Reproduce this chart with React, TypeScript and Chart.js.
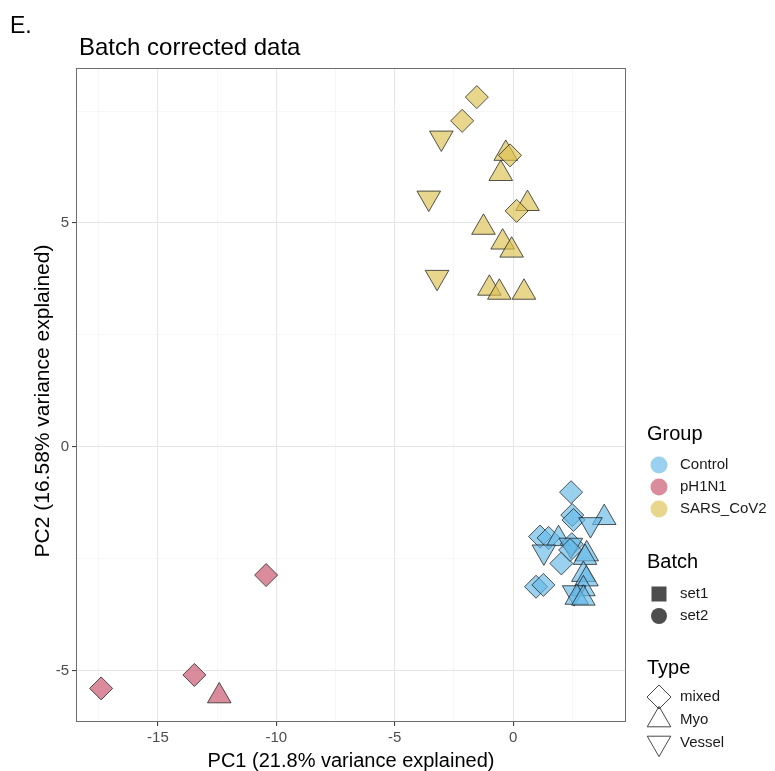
import React, { useEffect, useRef } from "react";
import { Chart, registerables } from "chart.js";
Chart.register(...registerables);

// ---- tick values ----
const xMajorTicks = [-15, -10, -5, 0];
const xMinorTicks = [-17.5, -12.5, -7.5, -2.5, 2.5];
const yMajorTicks = [-5, 0, 5];
const yMinorTicks = [-2.5, 2.5, 7.5];

// ---- legend labels ----
const groupNames = ["Control", "pH1N1", "SARS_CoV2"];
const batchNames = ["set1", "set2"];
const typeNames = ["mixed", "Myo", "Vessel"];

// ---- data: Control ----
const controlX = [2.45, 3.85, 2.5, 2.55, 3.27, 1.14, 1.5, 1.92, 1.3, 2.48, 2.44, 3.11, 2.04, 2.41, 3.04, 2.97, 3.1, 0.97, 1.28, 2.97, 2.58, 2.69, 2.97];
const controlY = [-1.01, -1.58, -1.52, -1.63, -1.73, -2.0, -2.03, -2.05, -2.34, -2.17, -2.19, -2.39, -2.6, -2.3, -2.47, -2.85, -2.95, -3.12, -3.08, -3.17, -3.25, -3.36, -3.38];
const controlType = ["mixed", "Myo", "mixed", "mixed", "Vessel", "mixed", "mixed", "Myo", "Vessel", "mixed", "Vessel", "Myo", "mixed", "mixed", "Myo", "Myo", "Myo", "mixed", "mixed", "Myo", "Vessel", "Myo", "Myo"];

// ---- data: pH1N1 ----
const h1n1X = [-17.4, -13.46, -12.41, -10.43];
const h1n1Y = [-5.39, -5.09, -5.56, -2.86];
const h1n1Type = ["mixed", "mixed", "Myo", "mixed"];

// ---- data: SARS_CoV2 ----
const sarsX = [-1.53, -2.15, -3.03, -0.31, -0.13, -0.52, -3.56, 0.61, 0.15, -1.25, -0.44, -0.06, -3.21, -1.0, -0.58, 0.46];
const sarsY = [7.81, 7.28, 6.9, 6.55, 6.51, 6.1, 5.56, 5.43, 5.27, 4.9, 4.57, 4.39, 3.79, 3.54, 3.45, 3.45];
const sarsType = ["mixed", "mixed", "Vessel", "Myo", "mixed", "Myo", "Vessel", "Myo", "mixed", "Myo", "Myo", "Myo", "Vessel", "Myo", "Myo", "Myo"];

const groupFill = ["rgba(100,185,230,0.65)", "rgba(196,70,95,0.62)", "rgba(220,192,78,0.65)"];
const pointBorder = "rgba(30,30,30,0.75)";
const FONT = "'Liberation Sans', Arial, sans-serif";

const styleOf = (t: string) => (t === "mixed" ? "rectRot" : "triangle");
const rotOf = (t: string) => (t === "Vessel" ? 180 : 0);
const radOf = (t: string) => (t === "mixed" ? 11.5 : 13.6);

function makeDataset(label: string, xs: number[], ys: number[], types: string[], fill: string) {
  return {
    label,
    data: xs.map((x, i) => ({ x, y: ys[i] })),
    pointStyle: types.map(styleOf),
    rotation: types.map(rotOf),
    pointRadius: types.map(radOf),
    pointHoverRadius: types.map(radOf),
    backgroundColor: fill,
    borderColor: pointBorder,
    borderWidth: 1,
    showLine: false,
  };
}

const PANEL = { left: 76, right: 626, top: 68, bottom: 722 };

const decorPlugin = {
  id: "decor",
  beforeDraw(chart: any) {
    const ctx = chart.ctx;
    ctx.save();
    ctx.fillStyle = "#ffffff";
    ctx.fillRect(0, 0, chart.width, chart.height);
    ctx.restore();
  },
  afterDraw(chart: any) {
    const ctx = chart.ctx;
    const a = chart.chartArea;
    ctx.save();
    // panel border
    ctx.strokeStyle = "#6e6e6e";
    ctx.lineWidth = 1;
    ctx.strokeRect(a.left + 0.5, a.top + 0.5, a.right - a.left - 1, a.bottom - a.top - 1);

    // "E." and title
    ctx.fillStyle = "#000000";
    ctx.textAlign = "left";
    ctx.textBaseline = "alphabetic";
    ctx.font = `23px ${FONT}`;
    ctx.fillText("E.", 10, 33);
    ctx.font = `24px ${FONT}`;
    ctx.fillText("Batch corrected data", 79, 55);

    // axis titles
    ctx.font = `20px ${FONT}`;
    ctx.textAlign = "center";
    ctx.textBaseline = "alphabetic";
    ctx.fillText("PC1 (21.8% variance explained)", (a.left + a.right) / 2, 767);
    ctx.save();
    ctx.font = `21px ${FONT}`;
    ctx.translate(49, 401);
    ctx.rotate(-Math.PI / 2);
    ctx.textBaseline = "alphabetic";
    ctx.fillText("PC2 (16.58% variance explained)", 0, 0);
    ctx.restore();

    // legend
    const lx = 659;
    const tx = 680;
    ctx.textAlign = "left";
    ctx.textBaseline = "middle";
    ctx.fillStyle = "#000";
    ctx.font = `20px ${FONT}`;
    ctx.fillText("Group", 647, 434);
    ctx.fillText("Batch", 647, 562);
    ctx.fillText("Type", 647, 668);

    ctx.font = `15px ${FONT}`;
    const gy = [465, 487, 509];
    groupNames.forEach((g, i) => {
      ctx.beginPath();
      ctx.arc(lx, gy[i], 8.5, 0, Math.PI * 2);
      ctx.fillStyle = groupFill[i];
      ctx.fill();
      ctx.fillStyle = "#1a1a1a";
      ctx.fillText(g, tx, gy[i]);
    });

    const by = [594, 616];
    ctx.fillStyle = "#4d4d4d";
    ctx.fillRect(lx - 7.5, by[0] - 7.5, 15, 15);
    ctx.beginPath();
    ctx.arc(lx, by[1], 8, 0, Math.PI * 2);
    ctx.fill();
    ctx.fillStyle = "#1a1a1a";
    batchNames.forEach((b, i) => ctx.fillText(b, tx, by[i]));

    const ty = [697, 720, 743];
    ctx.strokeStyle = "#333";
    ctx.lineWidth = 0.9;
    // diamond
    ctx.beginPath();
    ctx.moveTo(lx, ty[0] - 12);
    ctx.lineTo(lx + 12, ty[0]);
    ctx.lineTo(lx, ty[0] + 12);
    ctx.lineTo(lx - 12, ty[0]);
    ctx.closePath();
    ctx.stroke();
    // up triangle
    const r = 13.6;
    const s = Math.sqrt(3) / 2;
    ctx.beginPath();
    ctx.moveTo(lx, ty[1] - r);
    ctx.lineTo(lx + r * s, ty[1] + r / 2);
    ctx.lineTo(lx - r * s, ty[1] + r / 2);
    ctx.closePath();
    ctx.stroke();
    // down triangle
    ctx.beginPath();
    ctx.moveTo(lx, ty[2] + r);
    ctx.lineTo(lx + r * s, ty[2] - r / 2);
    ctx.lineTo(lx - r * s, ty[2] - r / 2);
    ctx.closePath();
    ctx.stroke();
    ctx.fillStyle = "#1a1a1a";
    typeNames.forEach((t, i) => ctx.fillText(t, tx, ty[i]));

    ctx.restore();
  },
};

function buildScale(min: number, max: number, majors: number[], minors: number[], axis: "x" | "y") {
  const all = [...majors, ...minors].sort((p, q) => p - q);
  const isMajor = (v: number) => majors.indexOf(v) >= 0;
  return {
    type: "linear",
    min,
    max,
    afterBuildTicks: (scale: any) => {
      scale.ticks = all.map((v) => ({ value: v }));
    },
    afterFit: (scale: any) => {
      if (axis === "x") scale.height = 771 - PANEL.bottom;
      else scale.width = PANEL.left;
    },
    border: { display: false },
    grid: {
      color: (c: any) => (c.tick && isMajor(c.tick.value) ? "#e6e6e6" : "#f2f2f2"),
      lineWidth: (c: any) => (c.tick && isMajor(c.tick.value) ? 1.1 : 0.7),
      tickColor: (c: any) => (c.tick && isMajor(c.tick.value) ? "#444" : "rgba(0,0,0,0)"),
      tickLength: 4,
      drawTicks: true,
    },
    ticks: {
      autoSkip: false,
      maxRotation: 0,
      padding: 3,
      color: "#4d4d4d",
      font: { family: FONT, size: 15 },
      callback: (v: any) => (isMajor(Number(v)) ? String(v) : ""),
    },
  };
}

export default function App() {
  const ref = useRef<HTMLCanvasElement | null>(null);
  useEffect(() => {
    if (!ref.current) return;
    const chart = new Chart(ref.current, {
      type: "scatter",
      data: {
        datasets: [
          makeDataset("Control", controlX, controlY, controlType, groupFill[0]),
          makeDataset("pH1N1", h1n1X, h1n1Y, h1n1Type, groupFill[1]),
          makeDataset("SARS_CoV2", sarsX, sarsY, sarsType, groupFill[2]),
        ],
      } as any,
      options: {
        responsive: false,
        animation: false,
        devicePixelRatio: 1,
        layout: { padding: { left: 0, top: PANEL.top, right: 775 - PANEL.right, bottom: 0 } },
        plugins: { legend: { display: false }, tooltip: { enabled: false }, title: { display: false } },
        scales: {
          x: buildScale(-18.46, 4.77, xMajorTicks, xMinorTicks, "x"),
          y: buildScale(-6.14, 8.46, yMajorTicks, yMinorTicks, "y"),
        } as any,
      },
      plugins: [decorPlugin],
    });
    return () => chart.destroy();
  }, []);
  return (
    <div style={{ position: "absolute", left: 0, top: 0, width: 775, height: 771 }}>
      <canvas ref={ref} width={775} height={771} />
    </div>
  );
}
